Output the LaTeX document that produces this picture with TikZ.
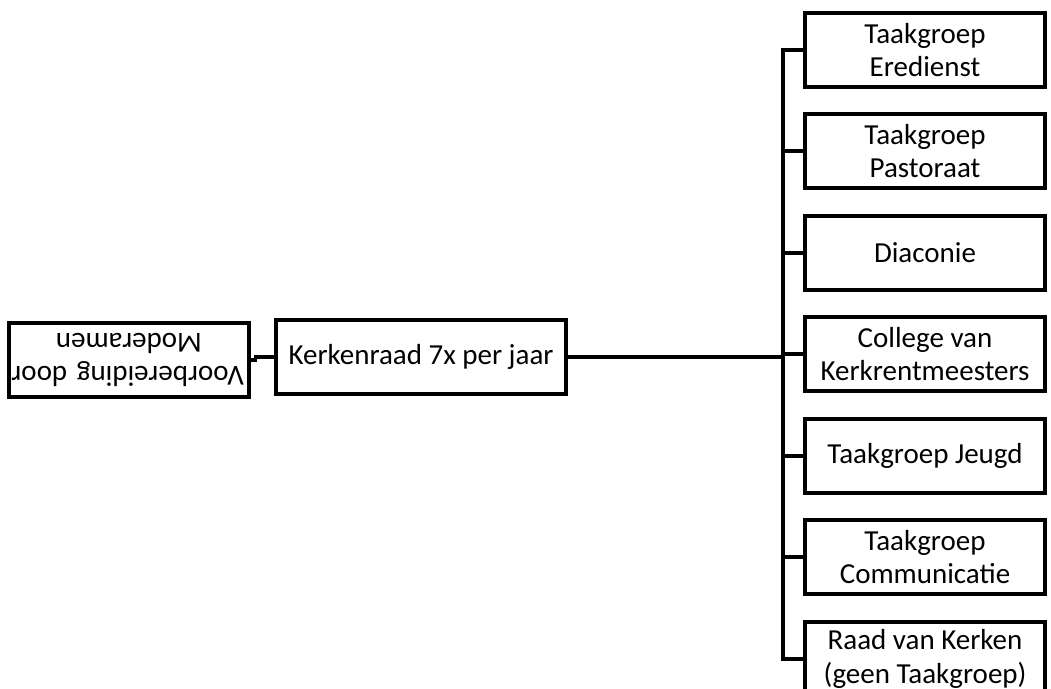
\documentclass[tikz,border=0pt]{standalone}
\usepackage{fontspec}
\setmainfont{Carlito}
\usetikzlibrary{positioning}
\tikzstyle{orgbox}=[draw, line width=2.2pt, minimum width=4.8cm, minimum height=1.48cm, align=center, font=\fontsize{16.5pt}{19pt}\selectfont]
\tikzstyle{conn}=[line width=1.8pt]

\begin{document}
\begin{tikzpicture}[x=0.02cm, y=-0.02cm]
	\useasboundingbox (0,0) rectangle (1051,689);
	\clip (0,0) rectangle (1051,689);
%
	\node[orgbox, rotate=180, text width=4.6cm, inner xsep=.1cm] (voorb) at (129,360) {Voorbereiding~door\\Moderamen};
	\node[orgbox, minimum width=5.8cm] (kerkenraad) at (421,357) {Kerkenraad 7x per jaar};
	\coordinate (spine) at (783,357);
%
	\foreach \y/\name/\txt in {50/eredienst/{Taakgroep\\Eredienst}, 151/pastoraat/{Taakgroep\\Pastoraat}, 253/diaconie/{Diaconie}, 354/kerkrent/{College van\\Kerkrentmeesters}, 456/jeugd/{Taakgroep Jeugd}, 557/communicatie/{Taakgroep\\Communicatie}, 659/raad/{Raad van Kerken\\(geen Taakgroep)}}{
		\node[orgbox] (\name) at (925,\y) {\txt};
		\draw[conn] (spine) |- (\name.west);
	}
%
	\draw[conn] (kerkenraad.east) -- (spine);
	\draw[conn] (voorb.west) -- ++(5,0) |- (kerkenraad.west);
\end{tikzpicture}
\end{document}
